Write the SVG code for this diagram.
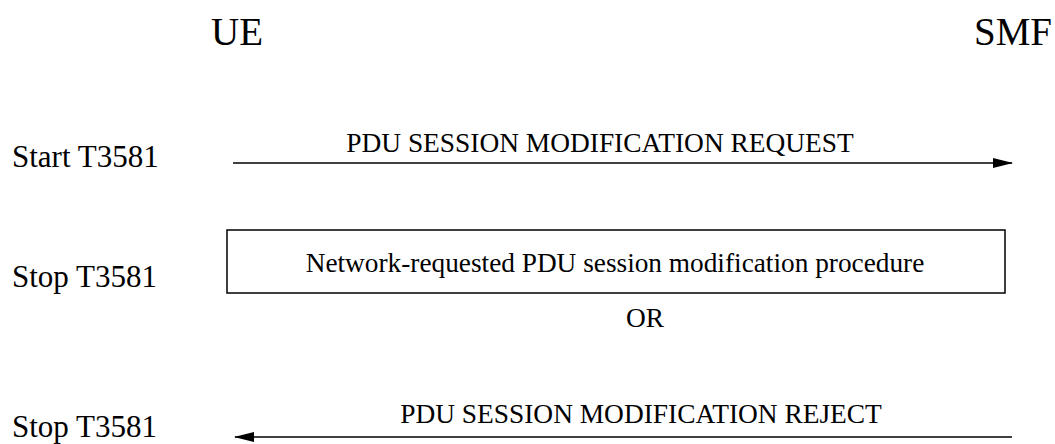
<svg xmlns="http://www.w3.org/2000/svg" width="1055" height="444" viewBox="0 0 1055 444">
<style>
text{font-family:"Liberation Serif","DejaVu Serif",serif;fill:#000}
.ent{font-size:39px}
.tmr{font-size:31px}
.msg{font-size:27.4px;text-anchor:middle}
.ln{stroke:#000;stroke-width:1.5;fill:none}
</style>
<defs>
<marker id="ah" markerWidth="20" markerHeight="10" refX="19" refY="5" orient="auto" markerUnits="userSpaceOnUse">
<path d="M0,0 L20,5 L0,10 Z" fill="#000"/>
</marker>
</defs>
<rect width="1055" height="444" fill="#fff"/>
<g id="ue"><text class="ent" x="211" y="45">UE</text></g>
<g id="smf"><text class="ent" x="974" y="45">SMF</text></g>
<g id="timers">
<text class="tmr" x="12" y="167">Start T3581</text>
<text class="tmr" x="12" y="287">Stop T3581</text>
<text class="tmr" x="12" y="437">Stop T3581</text>
</g>
<g id="procedure">
<rect class="ln" x="227" y="230" width="778" height="63"/>
<text class="msg" x="615" y="272" style="font-size:27.3px">Network-requested PDU session modification procedure</text>
</g>
<g id="or"><text class="msg" x="645" y="327">OR</text></g>
<g id="connectors">
<line class="ln" x1="233" y1="163" x2="1012" y2="163" marker-end="url(#ah)"/>
<text class="msg" x="600" y="152">PDU SESSION MODIFICATION REQUEST</text>
<line class="ln" x1="1012" y1="437" x2="235" y2="437" marker-end="url(#ah)"/>
<text class="msg" x="641" y="423">PDU SESSION MODIFICATION REJECT</text>
</g>
</svg>
